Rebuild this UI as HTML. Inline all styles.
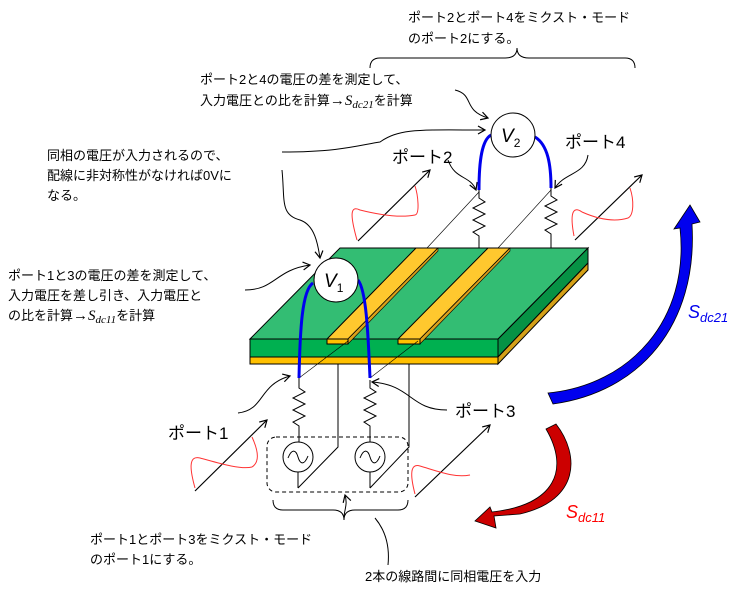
<!DOCTYPE html>
<html><head><meta charset="utf-8"><style>
body{margin:0;background:#fff;}
svg{display:block;}
text{font-family:"Liberation Sans","Noto Sans CJK JP",sans-serif;}
.n{font-size:13px;fill:#000;}
.p{font-size:17px;fill:#000;}
</style></head><body>
<svg width="740" height="591" viewBox="0 0 740 591" xmlns="http://www.w3.org/2000/svg">
<defs>
<marker id="a" markerWidth="10" markerHeight="10" refX="8" refY="5" orient="auto" markerUnits="userSpaceOnUse">
<path d="M1,1 L8,5 L1,9" fill="none" stroke="#000" stroke-width="1.2"/></marker>
</defs>

<path d="M370,68 Q370,58 380,58 L505,58 Q517,58 517,48 Q517,58 529,58 L625,58 Q635,58 635,68" fill="none" stroke="#000" stroke-width="1"/>
<text class="n" x="408" y="22">ポート2とポート4をミクスト・モード</text>
<text class="n" x="408" y="43">のポート2にする。</text>

<text class="n" x="200" y="84">ポート2と4の電圧の差を測定して、</text>
<text class="n" x="200" y="105">入力電圧との比を計算<tspan font-size="15">→</tspan><tspan font-family="Liberation Serif" font-style="italic" font-size="15">S</tspan><tspan font-family="Liberation Serif" font-style="italic" font-size="11" dy="3">dc21</tspan><tspan dy="-3">を計算</tspan></text>

<text class="n" x="47" y="160">同相の電圧が入力されるので、</text>
<text class="n" x="47" y="180">配線に非対称性がなければ0Vに</text>
<text class="n" x="47" y="200">なる。</text>

<text class="n" x="8" y="280">ポート1と3の電圧の差を測定して、</text>
<text class="n" x="8" y="300">入力電圧を差し引き、入力電圧と</text>
<text class="n" x="8" y="320">の比を計算<tspan font-size="15">→</tspan><tspan font-family="Liberation Serif" font-style="italic" font-size="15">S</tspan><tspan font-family="Liberation Serif" font-style="italic" font-size="11" dy="3">dc11</tspan><tspan dy="-3">を計算</tspan></text>

<path d="M455,90 C475,95 462,110 488,118" fill="none" stroke="#000" marker-end="url(#a)"/>
<path d="M282,152 C340,152 360,145 380,142 C400,128 420,130 485,130" fill="none" stroke="#000" marker-end="url(#a)"/>
<path d="M282,170 C285,200 280,215 300,220 C315,225 318,245 320,258" fill="none" stroke="#000" marker-end="url(#a)"/>
<path d="M245,290 C275,290 275,270 310,265" fill="none" stroke="#000" marker-end="url(#a)"/>
<path d="M448,160 C455,180 470,175 476,190" fill="none" stroke="#000" marker-end="url(#a)"/>
<path d="M588,155 C585,175 565,172 555,188" fill="none" stroke="#000" marker-end="url(#a)"/>
<path d="M238,413 C265,410 258,385 290,376" fill="none" stroke="#000" marker-end="url(#a)"/>
<path d="M447,410 C410,410 412,385 372,382" fill="none" stroke="#000" marker-end="url(#a)"/>

<line x1="479" y1="192" x2="427" y2="248" stroke="#000" stroke-width="0.6"/>
<line x1="551" y1="190" x2="498" y2="248" stroke="#000" stroke-width="0.6"/>

<path d="M479,190 L479,198 L485,202 L473,208 L485,214 L473,220 L485,226 L473,232 L479,236 L479,248" fill="none" stroke="#000"/>
<path d="M551,188 L551,196 L557,200 L545,206 L557,212 L545,218 L557,224 L545,230 L551,234 L551,248" fill="none" stroke="#000"/>

<path d="M358,241 L430,170" stroke="#000" fill="none" marker-end="url(#a)" stroke-width="1.2"/>
<path d="M357,240 C350,215 350,205 360,210 C380,215 400,218 415,215 C420,214 418,195 415,186" stroke="#f33" fill="none"/>
<path d="M575,240 L642,175" stroke="#000" fill="none" marker-end="url(#a)" stroke-width="1.2"/>
<path d="M574,236 C570,215 572,205 582,212 C600,220 615,222 628,218 C634,215 634,200 630,188" stroke="#f33" fill="none"/>

<polygon points="498,339 588,248 588,263 498,357" fill="#069245" stroke="#000"/>
<polygon points="498,357 588,263 588,270 498,364" fill="#d4a017" stroke="#000"/>
<polygon points="250,339 340,248 588,248 498,339" fill="#33bd73" stroke="#000"/>
<rect x="250" y="339" width="248" height="18" fill="#00b050" stroke="#000"/>
<rect x="250" y="357" width="248" height="7" fill="#ffc000" stroke="#000"/>
<polygon points="327,339 416,248 438,248 348,339" fill="#ffc82e" stroke="#000"/>
<polygon points="348,339 438,248 438,251 348,344" fill="#d9a01a" stroke="#000" stroke-width="0.6"/>
<rect x="327" y="339" width="21" height="5" fill="#ffc000" stroke="#000"/>
<polygon points="398,339 488,248 510,248 420,339" fill="#ffc82e" stroke="#000"/>
<polygon points="420,339 510,248 510,251 420,344" fill="#d9a01a" stroke="#000" stroke-width="0.6"/>
<rect x="398" y="339" width="22" height="5" fill="#ffc000" stroke="#000"/>

<line x1="299" y1="378" x2="348" y2="341" stroke="#000" stroke-width="0.6"/>
<line x1="370" y1="378" x2="418" y2="341" stroke="#000" stroke-width="0.6"/>
<path d="M338,364 L338,447 L298,488" fill="none" stroke="#000"/>
<path d="M409,364 L409,447 L370,488" fill="none" stroke="#000"/>

<path d="M299,378 L299,388 L305,392 L293,398 L305,404 L293,410 L305,416 L293,422 L299,426 L299,442" fill="none" stroke="#000"/>
<path d="M370,380 L370,388 L376,392 L364,398 L376,404 L364,410 L376,416 L364,422 L370,426 L370,442" fill="none" stroke="#000"/>
<circle cx="298" cy="457" r="15" fill="#fff" stroke="#000"/>
<path d="M288,458 C292,448 296,450 298,457 C300,464 304,466 308,456" fill="none" stroke="#000"/>
<line x1="298" y1="472" x2="298" y2="488" stroke="#000"/>
<circle cx="370" cy="457" r="15" fill="#fff" stroke="#000"/>
<path d="M360,458 C364,448 368,450 370,457 C372,464 376,466 380,456" fill="none" stroke="#000"/>
<line x1="370" y1="472" x2="370" y2="488" stroke="#000"/>
<rect x="267" y="437" width="141" height="55" rx="9" fill="none" stroke="#000" stroke-dasharray="4,3"/>
<path d="M344,518 C344,510 348,505 345,495" fill="none" stroke="#000" marker-end="url(#a)"/>

<path d="M313,283 C302,290 300,330 299,378" fill="none" stroke="#0000ee" stroke-width="3"/>
<path d="M358,280 C366,290 368,330 370,378" fill="none" stroke="#0000ee" stroke-width="3"/>
<path d="M491,135 C482,140 479,160 479,190" fill="none" stroke="#0000ee" stroke-width="3"/>
<path d="M535,137 C548,145 551,165 551,188" fill="none" stroke="#0000ee" stroke-width="3"/>

<circle cx="336" cy="280" r="22" fill="#fff" stroke="#000"/>
<text x="324" y="287" font-family="Liberation Serif" font-style="italic" font-size="19">V<tspan font-size="12" dy="5" font-style="normal">1</tspan></text>
<circle cx="513" cy="135" r="22" fill="#fff" stroke="#000"/>
<text x="501" y="142" font-family="Liberation Serif" font-style="italic" font-size="19">V<tspan font-size="12" dy="5" font-style="normal">2</tspan></text>

<path d="M195,491 L267,420" stroke="#000" fill="none" marker-end="url(#a)" stroke-width="1.2"/>
<path d="M195,488 C190,470 188,455 200,458 C215,462 240,470 252,467 C260,462 258,450 252,437" stroke="#f33" fill="none"/>
<path d="M415,497 L490,425" stroke="#000" fill="none" marker-end="url(#a)" stroke-width="1.2"/>
<path d="M415,494 C410,475 410,463 420,466 C440,472 455,478 470,475" stroke="#f33" fill="none"/>

<text class="p" x="392" y="163">ポート2</text>
<text class="p" x="565" y="148">ポート4</text>
<text class="p" x="168" y="439">ポート1</text>
<text class="p" x="455" y="417">ポート3</text>

<path d="M548,393 C630,385 690,320 680,228 L674,229 L690,205 L700,222 L692,224 C698,325 640,392 553,404 Z" fill="#0000ee" stroke="#000" stroke-width="0.8"/>
<path d="M546,429 L556,424 C580,455 580,500 520,514 L494,516 L496,528 L475,521 L490,507 L492,512 C555,505 570,470 546,429 Z" fill="#cc0000" stroke="#000" stroke-width="0.8"/>
<text x="688" y="318" fill="#0000ee" font-family="Liberation Serif" font-style="italic" font-size="18">S<tspan font-size="13" dy="4">dc21</tspan></text>
<text x="566" y="518" fill="#ff0000" font-family="Liberation Serif" font-style="italic" font-size="18">S<tspan font-size="13" dy="4">dc11</tspan></text>

<path d="M273,500 Q273,510 283,510 L333,510 Q344,510 344,520 Q344,510 355,510 L398,510 Q408,510 408,500" fill="none" stroke="#000"/>
<text class="n" x="90" y="544">ポート1とポート3をミクスト・モード</text>
<text class="n" x="90" y="564">のポート1にする。</text>
<text class="n" x="365" y="581">2本の線路間に同相電圧を入力</text>
<path d="M388,565 C390,545 385,530 375,518" fill="none" stroke="#000"/>
</svg>
</body></html>
